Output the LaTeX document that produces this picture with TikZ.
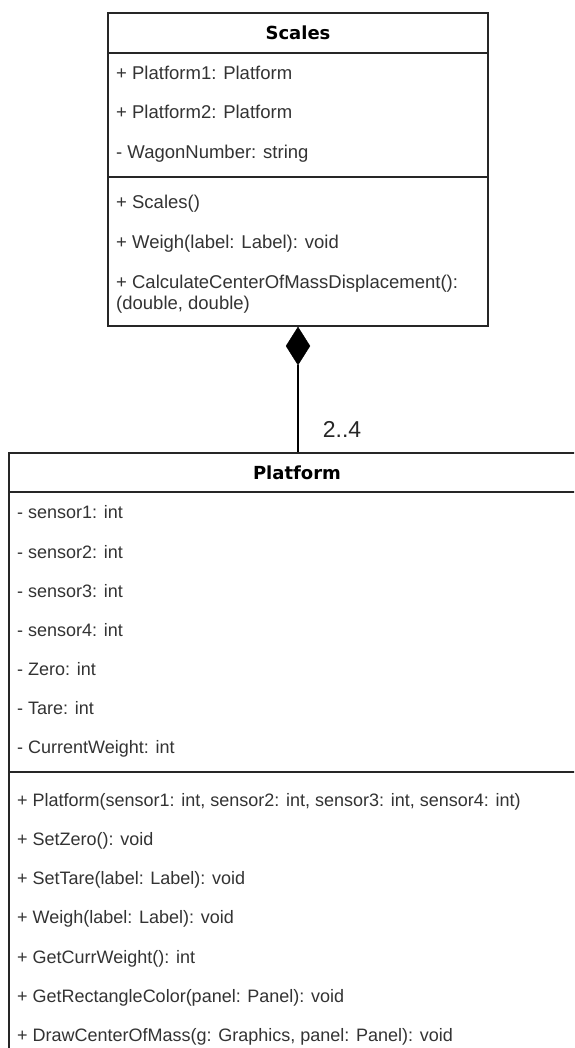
\documentclass[tikz,border=0pt]{standalone}
\usepackage{fontspec}
\setmainfont{Liberation Sans}
\newfontfamily\titlefont{DejaVu Sans}
\usetikzlibrary{shapes.geometric}
\begin{document}
\begin{tikzpicture}[x=1pt,y=-1pt,
  box/.style={draw=black!85, line width=1.2pt, fill=white, inner sep=0pt},
  attr/.style={anchor=west, inner sep=0pt, text height=13pt, text depth=0pt,
    font=\fontsize{18.5}{21}\selectfont, text=black!80},
  pattr/.style={attr, font=\fontsize{18}{21}\selectfont},
  title/.style={inner sep=0pt, font=\titlefont\bfseries\fontsize{18}{22}\selectfont},
  sep/.style={draw=black!85, line width=1.2pt},
  conn/.style={draw=black, line width=1.2pt},
  mult/.style={inner sep=0pt, font=\fontsize{23}{26}\selectfont, text=black!85}]
\useasboundingbox (0,0) rectangle (574,1048);
\clip (0,0) rectangle (574,1048);
% Scales class
\node[box, minimum width=380pt, minimum height=313pt] (scales) at (298,169.5) {};
\draw[sep] (scales.west |- 0,53) -- (scales.east |- 0,53);
\draw[sep] (scales.west |- 0,177) -- (scales.east |- 0,177);
\node[title] (scalesT) at (298,33) {Scales};
\node[attr] (sa1) at (116,73) {+ Platform1: Platform};
\node[attr] (sa2) at (116,112) {+ Platform2: Platform};
\node[attr] (sa3) at (116,152) {- WagonNumber: string};
\node[attr] (sm1) at (116,202) {+ Scales()};
\node[attr] (sm2) at (116,242) {+ Weigh(label: Label): void};
\node[attr] (sm3) at (116,282) {+ CalculateCenterOfMassDisplacement():};
\node[attr] (sm3b) at (116,303) {(double, double)};
% Platform class
\node[box, minimum width=576pt, minimum height=612pt] (plat) at (297,759) {};
\draw[sep] (plat.west |- 0,492) -- (plat.east |- 0,492);
\draw[sep] (plat.west |- 0,772) -- (plat.east |- 0,772);
\node[title] (platT) at (297,473) {Platform};
\node[pattr] (pa1) at (17,512) {- sensor1: int};
\node[pattr] (pa2) at (17,552) {- sensor2: int};
\node[pattr] (pa3) at (17,591) {- sensor3: int};
\node[pattr] (pa4) at (17,630) {- sensor4: int};
\node[pattr] (pa5) at (17,669) {- Zero: int};
\node[pattr] (pa6) at (17,708) {- Tare: int};
\node[pattr] (pa7) at (17,747) {- CurrentWeight: int};
\node[pattr] (pm1) at (17,800) {+ Platform(sensor1: int, sensor2: int, sensor3: int, sensor4: int)};
\node[pattr] (pm2) at (17,839) {+ SetZero(): void};
\node[pattr] (pm3) at (17,878) {+ SetTare(label: Label): void};
\node[pattr] (pm4) at (17,917) {+ Weigh(label: Label): void};
\node[pattr] (pm5) at (17,957) {+ GetCurrWeight(): int};
\node[pattr] (pm6) at (17,996) {+ GetRectangleColor(panel: Panel): void};
\node[pattr] (pm7) at (17,1035) {+ DrawCenterOfMass(g: Graphics, panel: Panel): void};
% composition
\node[diamond, fill=black, draw=black, inner sep=0pt, minimum width=24pt, minimum height=38pt] (dia) at (298,346) {};
\draw[conn] (dia.south) -- (dia.south |- plat.north);
\node[mult] (m) at (342,429) {2..4};
\end{tikzpicture}
\end{document}
